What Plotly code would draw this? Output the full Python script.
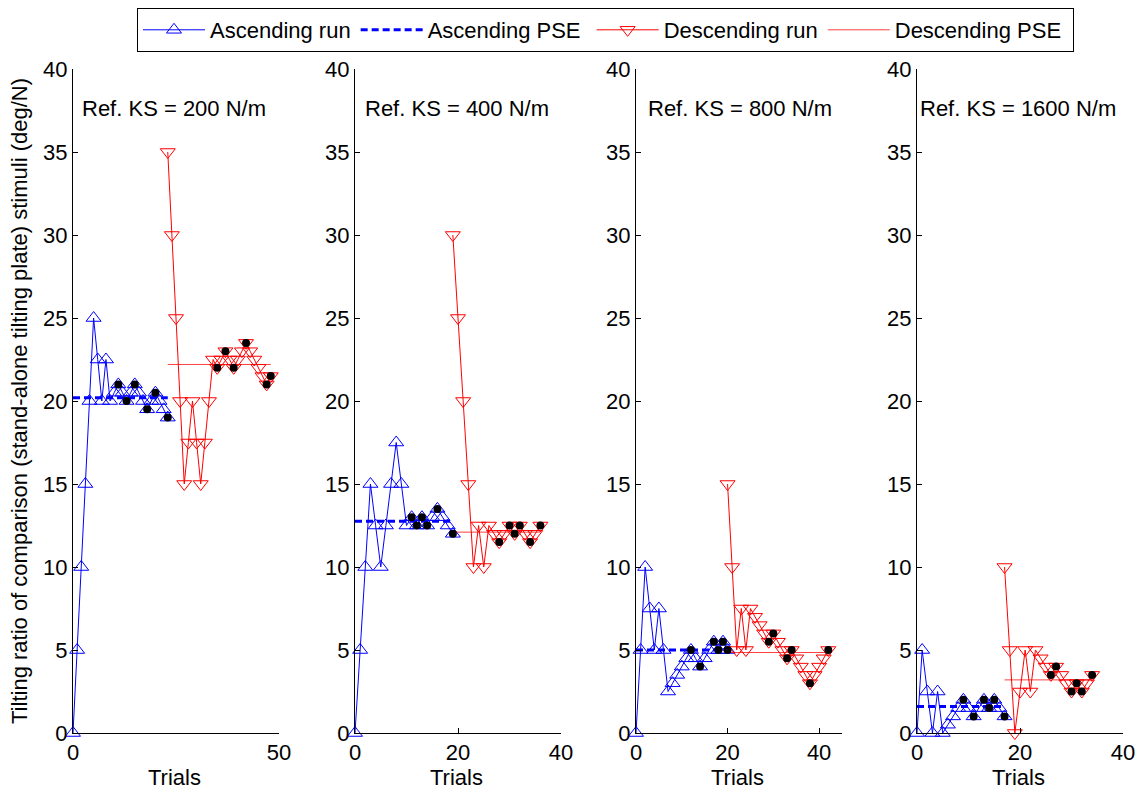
import plotly.graph_objects as go

# ---------------- data ----------------
panel_labels = ["Ref. KS = 200 N/m", "Ref. KS = 400 N/m", "Ref. KS = 800 N/m", "Ref. KS = 1600 N/m"]
legend_names = ["Ascending run", "Ascending PSE", "Descending run", "Descending PSE"]
x_title = "Trials"
y_title = "Tilting ratio of comparison (stand-alone tilting plate) stimuli (deg/N)"
x_ranges = [[0, 50], [0, 40], [0, 45], [0, 40]]
x_tickvals = [[0, 50], [0, 20, 40], [0, 20, 40], [0, 20, 40]]
y_tickvals = [0, 5, 10, 15, 20, 25, 30, 35, 40]

# Ref 200 N/m
asc_start_200 = 0
asc_200 = [0, 5, 10, 15, 20, 25, 22.5, 20, 22.5, 20, 20.5, 21, 20.5, 20, 20.5, 21, 20.5, 20, 19.5, 20, 20.5, 20, 19.5, 19]
asc_rev_200 = [11, 13, 15, 18, 20, 23]
desc_start_200 = 23
desc_200 = [35, 30, 25, 20, 15, 17.5, 20, 17.5, 15, 17.5, 20, 22.5, 22, 22.5, 23, 22.5, 22, 22.5, 23, 23.5, 23, 22.5, 22, 21.5, 21, 21.5]
desc_rev_200 = [35, 37, 39, 42, 47, 48]
asc_pse_200 = 20.2
desc_pse_200 = 22.2

# Ref 400 N/m
asc_start_400 = 0
asc_400 = [0, 5, 10, 15, 12.5, 10, 12.5, 15, 17.5, 15, 12.5, 13, 12.5, 13, 12.5, 13, 13.5, 13, 12.5, 12]
asc_rev_400 = [11, 12, 13, 14, 16, 19]
desc_start_400 = 19
desc_400 = [30, 25, 20, 15, 10, 12.5, 10, 12.5, 12, 11.5, 12, 12.5, 12, 12.5, 12, 11.5, 12, 12.5]
desc_rev_400 = [28, 30, 31, 32, 34, 36]
asc_pse_400 = 12.75
desc_pse_400 = 12.1

# Ref 800 N/m
asc_start_800 = 0
asc_800 = [0, 5, 10, 7.5, 5, 7.5, 5, 2.5, 3, 3.5, 4, 4.5, 5, 4.5, 4, 4.5, 5, 5.5, 5, 5.5, 5]
asc_rev_800 = [12, 14, 17, 18, 19, 20]
desc_start_800 = 20
desc_800 = [15, 10, 5, 7.5, 5, 7.5, 7, 6.5, 6, 5.5, 6, 5.5, 5, 4.5, 5, 4.5, 4, 3.5, 3, 3.5, 4, 4.5, 5]
desc_rev_800 = [29, 30, 33, 34, 38, 42]
asc_pse_800 = 5.0
desc_pse_800 = 4.85

# Ref 1600 N/m
asc_start_1600 = 0
asc_1600 = [0, 5, 2.5, 0, 2.5, 0, 0.5, 1, 1.5, 2, 1.5, 1, 1.5, 2, 1.5, 2, 1.5, 1]
asc_rev_1600 = [9, 11, 13, 14, 15, 17]
desc_start_1600 = 17
desc_1600 = [10, 5, 0, 2.5, 5, 2.5, 5, 4.5, 4, 3.5, 4, 3.5, 3, 2.5, 3, 2.5, 3, 3.5]
desc_rev_1600 = [26, 27, 30, 31, 32, 34]
asc_pse_1600 = 1.6
desc_pse_1600 = 3.2

panels = [
    (asc_start_200, asc_200, asc_rev_200, desc_start_200, desc_200, desc_rev_200, asc_pse_200, desc_pse_200),
    (asc_start_400, asc_400, asc_rev_400, desc_start_400, desc_400, desc_rev_400, asc_pse_400, desc_pse_400),
    (asc_start_800, asc_800, asc_rev_800, desc_start_800, desc_800, desc_rev_800, asc_pse_800, desc_pse_800),
    (asc_start_1600, asc_1600, asc_rev_1600, desc_start_1600, desc_1600, desc_rev_1600, asc_pse_1600, desc_pse_1600),
]

# ---------------- layout geometry ----------------
W, H = 1139, 791
def px_x(p):
    return p / W
def px_y(p):
    return 1 - p / H

x_left_px = [73, 355, 636, 917]
ax_w_px = 206
y_top_px, y_bot_px = 69, 733
FONT = "Liberation Sans, Arial, Helvetica, sans-serif"
FS = 22
BLUE = "rgb(0,0,255)"
RED = "rgb(255,0,0)"
NB = "\u00a0"
legend_pad = [0, 1, 0, 1]    # non-breaking spaces to widen legend entries

fig = go.Figure()
layout = dict(
    width=W, height=H,
    margin=dict(l=0, r=0, t=0, b=0, autoexpand=False),
    paper_bgcolor="white", plot_bgcolor="white",
    font=dict(family=FONT, size=FS, color="black"),
    showlegend=True,
)
names = [nm + NB * p for nm, p in zip(legend_names, legend_pad)]

annotations = []
for i, (a0, asc, arev, d0, desc, drev, apse, dpse) in enumerate(panels):
    n = "" if i == 0 else str(i + 1)
    xa, ya = "x" + n, "y" + n
    first = i == 0
    at = list(range(a0, a0 + len(asc)))
    dt = list(range(d0, d0 + len(desc)))

    fig.add_trace(go.Scatter(
        x=at, y=asc, xaxis=xa, yaxis=ya, mode="lines+markers", name=names[0],
        line=dict(color=BLUE, width=1),
        marker=dict(symbol="triangle-up-open", size=13, color=BLUE, line=dict(width=1, color=BLUE)),
        cliponaxis=False, showlegend=first))
    fig.add_trace(go.Scatter(
        x=[at[0], at[-1]], y=[apse, apse], xaxis=xa, yaxis=ya, mode="lines", name=names[1],
        line=dict(color=BLUE, width=3, dash="7px,4px"), showlegend=first))
    fig.add_trace(go.Scatter(
        x=dt, y=desc, xaxis=xa, yaxis=ya, mode="lines+markers", name=names[2],
        line=dict(color=RED, width=1),
        marker=dict(symbol="triangle-down-open", size=13, color=RED, line=dict(width=1, color=RED)),
        cliponaxis=False, showlegend=first))
    fig.add_trace(go.Scatter(
        x=[dt[0], dt[-1]], y=[dpse, dpse], xaxis=xa, yaxis=ya, mode="lines", name=names[3],
        line=dict(color="rgba(255,0,0,0.75)", width=1), showlegend=first))
    # reversal dots
    rx = arev + drev
    ry = [asc[t - a0] for t in arev] + [desc[t - d0] for t in drev]
    fig.add_trace(go.Scatter(
        x=rx, y=ry, xaxis=xa, yaxis=ya, mode="markers",
        marker=dict(symbol="circle", size=8, color="black"), showlegend=False, cliponaxis=False))

    axis_common = dict(showline=True, linecolor="black", linewidth=1, ticks="inside", ticklen=5,
                       tickcolor="black", showgrid=False, zeroline=False, automargin=False,
                       tickfont=dict(family=FONT, size=FS, color="black"))
    layout["xaxis" + n] = dict(domain=[px_x(x_left_px[i]), px_x(x_left_px[i] + ax_w_px)],
                               range=x_ranges[i], tickvals=x_tickvals[i], anchor=ya,
                               **axis_common)
    layout["yaxis" + n] = dict(domain=[px_y(y_bot_px), px_y(y_top_px)], range=[0, 40],
                               tickvals=y_tickvals, anchor=xa, **axis_common)
    text_x_px = [80, 363, 646, 918][i]
    annotations.append(dict(text=panel_labels[i], xref="paper", yref="paper",
                            x=px_x(text_x_px), y=px_y(108), xanchor="left", yanchor="middle",
                            showarrow=False, font=dict(family=FONT, size=FS, color="black")))
    annotations.append(dict(text=x_title, xref="paper", yref="paper",
                            x=px_x(x_left_px[i] + ax_w_px / 2 - 2), y=px_y(777),
                            xanchor="center", yanchor="middle", showarrow=False,
                            font=dict(family=FONT, size=FS, color="black")))

annotations.append(dict(text=y_title, xref="paper", yref="paper", x=px_x(19), y=px_y(401),
                        textangle=-90, xanchor="center", yanchor="middle", showarrow=False,
                        font=dict(family=FONT, size=22, color="black")))
layout["annotations"] = annotations
layout["legend"] = dict(orientation="h", x=px_x(137), y=px_y(8), xanchor="left", yanchor="top",
                        bordercolor="black", borderwidth=1, bgcolor="white",
                        font=dict(family=FONT, size=FS, color="black"),
                        itemwidth=62, traceorder="normal")
fig.update_layout(**layout)
fig.write_html("out.html")
